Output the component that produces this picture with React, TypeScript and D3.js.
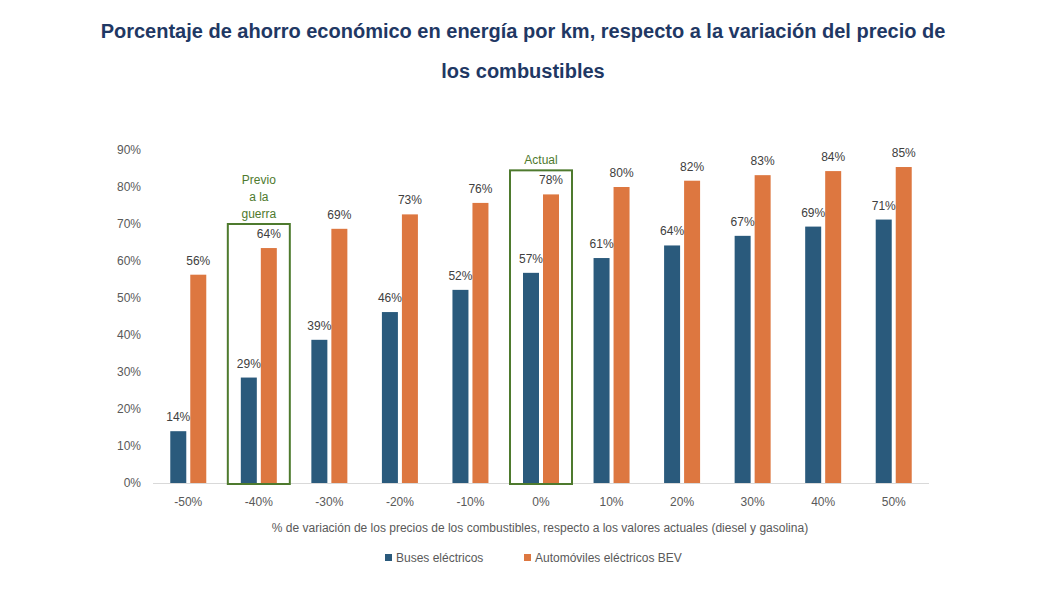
import * as d3 from "d3";

const categories = ["-50%", "-40%", "-30%", "-20%", "-10%", "0%", "10%", "20%", "30%", "40%", "50%"];
const buses = [14, 28.5, 38.7, 46.2, 52.2, 56.8, 60.8, 64.2, 66.8, 69.3, 71.2];
const autos = [56.3, 63.5, 68.7, 72.6, 75.7, 78, 80, 81.7, 83.2, 84.3, 85.4];
const yTicks = [0, 10, 20, 30, 40, 50, 60, 70, 80, 90];
const highlights = [
  { cat: "-40%", top: 70, label: ["Previo", "a la", "guerra"] },
  { cat: "0%", top: 84.5, label: ["Actual"] },
];

const BLUE = "#2a5a7c";
const ORANGE = "#dd7740";
const GREEN = "#4e7a2e";
const FONT = "Liberation Sans, Arial, sans-serif";

export default function App() {
  const W = 1046, H = 608;
  const x = d3.scaleBand().domain(categories).range([153, 929]);
  const y = d3.scaleLinear().domain([0, 90]).range([483, 150]);
  const bw = 16, gap = 4;
  const cx = (c: string) => x(c)! + x.bandwidth() / 2;

  return (
    <svg width={W} height={H} style={{ position: "absolute", left: 0, top: 0, background: "#fff" }} fontFamily={FONT}>
      <text x={523} y={38} textAnchor="middle" fontSize={20} fontWeight="bold" fill="#1f3864">
        Porcentaje de ahorro económico en energía por km, respecto a la variación del precio de
      </text>
      <text x={523} y={78} textAnchor="middle" fontSize={20} fontWeight="bold" fill="#1f3864">
        los combustibles
      </text>

      {yTicks.map(t => (
        <text key={t} x={141} y={y(t) + 4} textAnchor="end" fontSize={12} fill="#595959">{t}%</text>
      ))}
      <line x1={153} x2={929} y1={483.5} y2={483.5} stroke="#d9d9d9" />

      {categories.map((c, i) => (
        <g key={c}>
          <rect x={cx(c) - gap / 2 - bw} y={y(buses[i])} width={bw} height={y(0) - y(buses[i])} fill={BLUE} />
          <rect x={cx(c) + gap / 2} y={y(autos[i])} width={bw} height={y(0) - y(autos[i])} fill={ORANGE} />
          <text x={cx(c) - gap / 2 - bw / 2} y={y(buses[i]) - 10} textAnchor="middle" fontSize={12} fill="#404040">{Math.round(buses[i])}%</text>
          <text x={cx(c) + gap / 2 + bw / 2} y={y(autos[i]) - 10} textAnchor="middle" fontSize={12} fill="#404040">{Math.round(autos[i])}%</text>
          <text x={cx(c)} y={506} textAnchor="middle" fontSize={12} fill="#595959">{c}</text>
        </g>
      ))}

      {highlights.map(h => (
        <g key={h.cat}>
          <rect x={cx(h.cat) - 31} y={y(h.top)} width={62} height={y(0) - y(h.top) + 1} fill="none" stroke={GREEN} strokeWidth={2} />
          {h.label.map((l, j) => (
            <text key={j} x={cx(h.cat)} y={y(h.top) - 6 - (h.label.length - 1 - j) * 17} textAnchor="middle" fontSize={12} fill={GREEN}>{l}</text>
          ))}
        </g>
      ))}

      <text x={540} y={532} textAnchor="middle" fontSize={12} fill="#595959">
        % de variación de  los precios de los combustibles, respecto a los valores actuales (diesel y gasolina)
      </text>
      <rect x={385} y={554} width={7} height={7} fill={BLUE} />
      <text x={396} y={562} fontSize={12} fill="#595959">Buses eléctricos</text>
      <rect x={524} y={554} width={7} height={7} fill={ORANGE} />
      <text x={535} y={562} fontSize={12} fill="#595959">Automóviles eléctricos BEV</text>
    </svg>
  );
}
